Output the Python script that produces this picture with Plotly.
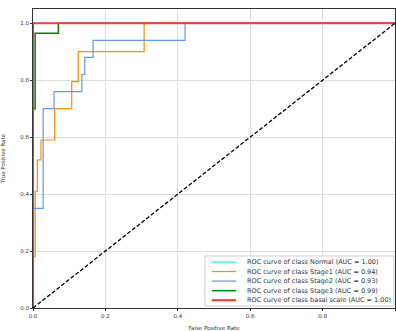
import plotly.graph_objects as go

# Data
classes = ["Normal", "Stage1", "Stage2", "Stage3", "basal scale"]
aucs = [1.00, 0.94, 0.93, 0.99, 1.00]
colors = ["aqua", "darkorange", "cornflowerblue", "green", "#f04040"]

fpr_normal = [0.0, 0.0, 1.0]
tpr_normal = [0.0, 1.0, 1.0]

fpr_stage1 = [0.0, 0.0, 0.006, 0.006, 0.012, 0.012, 0.022, 0.022, 0.06, 0.06, 0.107, 0.107, 0.125, 0.125, 0.307, 0.307, 1.0]
tpr_stage1 = [0.0, 0.18, 0.18, 0.41, 0.41, 0.52, 0.52, 0.59, 0.59, 0.70, 0.70, 0.795, 0.795, 0.90, 0.90, 1.0, 1.0]

fpr_stage2 = [0.0, 0.0, 0.028, 0.028, 0.058, 0.058, 0.135, 0.135, 0.143, 0.143, 0.166, 0.166, 0.42, 0.42, 1.0]
tpr_stage2 = [0.0, 0.35, 0.35, 0.70, 0.70, 0.76, 0.76, 0.82, 0.82, 0.88, 0.88, 0.94, 0.94, 1.0, 1.0]

fpr_stage3 = [0.0, 0.0, 0.006, 0.006, 0.07, 0.07, 1.0]
tpr_stage3 = [0.0, 0.70, 0.70, 0.965, 0.965, 1.0, 1.0]

fpr_class5 = [0.0, 0.0, 1.0]
tpr_class5 = [0.0, 1.0, 1.0]

tick_vals = [0, 0.2, 0.4, 0.6, 0.8, 1.0]
tick_text = ["0.0", "0.2", "0.4", "0.6", "0.8", "1.0"]

fprs = [fpr_normal, fpr_stage1, fpr_stage2, fpr_stage3, fpr_class5]
tprs = [tpr_normal, tpr_stage1, tpr_stage2, tpr_stage3, tpr_class5]
widths = [1.2, 1.2, 1.2, 1.5, 2.2]

fig = go.Figure()
for name, auc, c, fx, ty, w in zip(classes, aucs, colors, fprs, tprs, widths):
    fig.add_trace(go.Scatter(
        x=fx, y=ty, mode="lines",
        line=dict(color=c, width=w),
        name=f"ROC curve of class {name} (AUC = {auc:.2f})",
        showlegend=False,
    ))

fig.add_trace(go.Scatter(
    x=[0, 1], y=[0, 1], mode="lines",
    line=dict(color="black", width=1.3, dash="4px,2px"),
    showlegend=False,
))

# Legend drawn as a boxed list (compact rows like matplotlib)
fig.add_shape(type="rect", xref="x domain", yref="y domain",
              x0=0.475, x1=0.997, y0=0.007, y1=0.174,
              line=dict(color="#cccccc", width=1), fillcolor="rgba(255,255,255,0.85)",
              layer="above")
row_y = [0.154, 0.122, 0.090, 0.058, 0.026]
for name, auc, c, w, ry in zip(classes, aucs, colors, widths, row_y):
    fig.add_shape(type="line", xref="x domain", yref="y domain",
                  x0=0.494, x1=0.561, y0=ry, y1=ry,
                  line=dict(color=c, width=w), layer="above")
    fig.add_annotation(xref="x domain", yref="y domain", x=0.585, y=ry,
                       xanchor="left", yanchor="middle", showarrow=False,
                       text=f"ROC curve of class {name} (AUC = {auc:.2f})",
                       font=dict(size=6.5, family="DejaVu Sans", color="#333333"))

axis_common = dict(
    showgrid=True, gridcolor="#dcdcdc", gridwidth=0.8,
    showline=True, linecolor="#333333", linewidth=1, mirror=True,
    ticks="outside", ticklen=2, tickcolor="#333333",
    tickfont=dict(size=5.5, family="DejaVu Sans", color="#333333"),
    zeroline=False, automargin=False,
    tickvals=tick_vals, ticktext=tick_text,
)

fig.update_layout(
    width=396, height=331,
    margin=dict(l=33, r=1, t=9, b=23),
    paper_bgcolor="white", plot_bgcolor="white",
    xaxis=dict(range=[0, 1],
               title=dict(text="False Positive Rate", font=dict(size=5.5, family="DejaVu Sans", color="#333333")),
               **axis_common),
    yaxis=dict(range=[0, 1.05],
               title=dict(text="True Positive Rate", font=dict(size=5.5, family="DejaVu Sans", color="#333333")),
               **axis_common),
    showlegend=False,
)

fig.write_html("out.html", config={"displayModeBar": False},
               post_script="document.body.style.margin='0';document.body.style.overflow='hidden';")
